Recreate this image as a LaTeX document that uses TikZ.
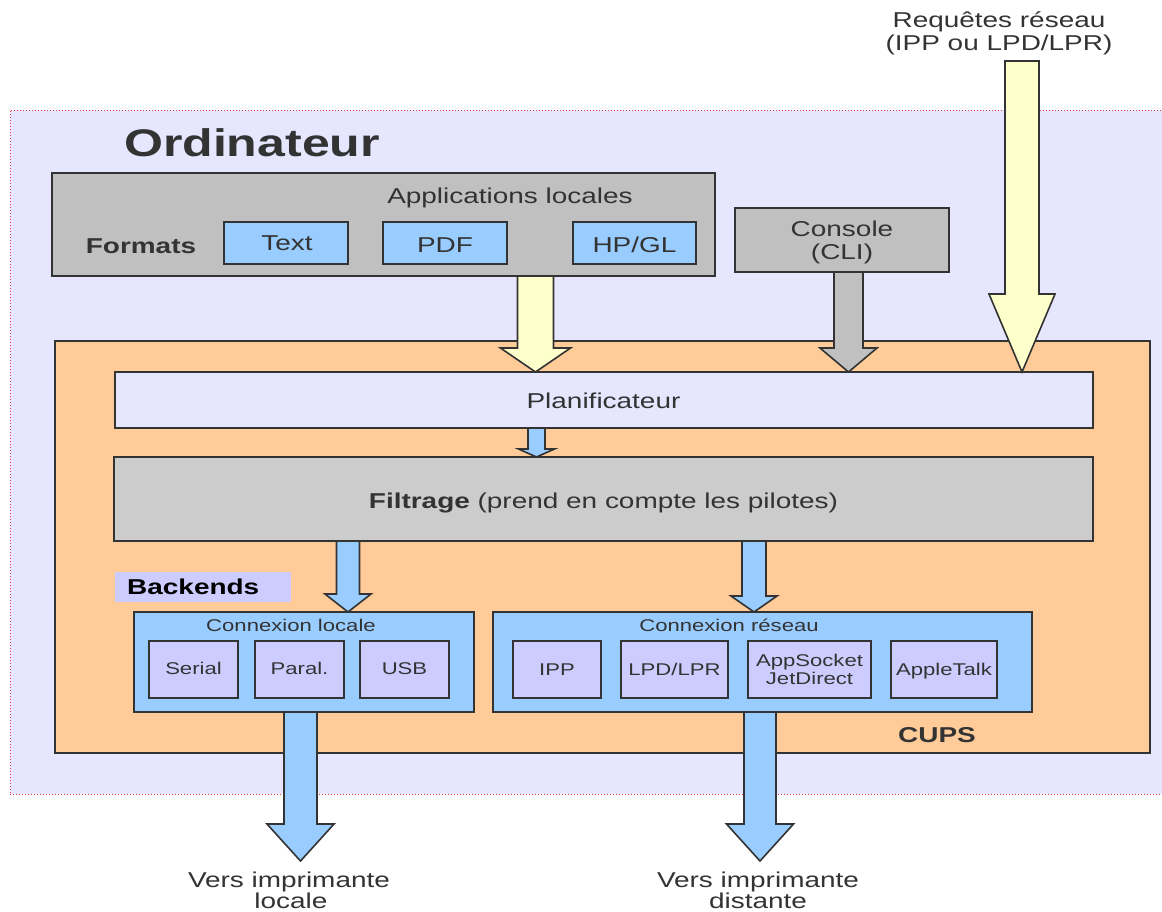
\documentclass[tikz,border=0pt]{standalone}
\usepackage{fontspec}
\setmainfont{Liberation Sans}[FakeStretch=1.3]
\usetikzlibrary{calc}
\definecolor{ordfill}{RGB}{230,230,255}
\definecolor{grayA}{RGB}{192,192,192}
\definecolor{grayB}{RGB}{204,204,204}
\definecolor{blueA}{RGB}{153,204,255}
\definecolor{lavB}{RGB}{204,204,255}
\definecolor{orangeA}{RGB}{255,204,153}
\definecolor{yellowA}{RGB}{255,255,204}
\definecolor{edgec}{RGB}{51,51,51}
\definecolor{txtc}{RGB}{51,51,51}
\definecolor{dotred}{RGB}{225,60,70}
\tikzset{
  box/.style={draw=edgec, line width=1.6pt, anchor=north west, inner sep=0pt, outer sep=0pt},
  plainbox/.style={anchor=north west, inner sep=0pt, outer sep=0pt},
  lbl/.style={text=txtc, font=\fontsize{21.5}{23.5}\selectfont, inner sep=0pt, anchor=base},
  slbl/.style={text=txtc, font=\fontsize{17}{18}\selectfont, inner sep=0pt, anchor=base},
  barrow/.style={draw=edgec, line width=1.6pt, line join=miter},
}
\newcommand{\boxnode}[6]{\node[#6, minimum width={#4pt-#2pt}, minimum height={#5pt-#3pt}] (#1) at (#2,#3) {};}
\newcommand{\blockarrow}[6]{%
  \draw[barrow,#1] let \p1=#2, \p2=#3 in
    (\x1-#4pt,\y1) -- (\x1-#4pt,\y2+#6pt) -- (\x1-#5pt,\y2+#6pt) -- (\x2,\y2)
    -- (\x1+#5pt,\y2+#6pt) -- (\x1+#4pt,\y2+#6pt) -- (\x1+#4pt,\y1) -- cycle;}
\begin{document}
\begin{tikzpicture}[x=1pt,y=-1pt]
\useasboundingbox (0,0) rectangle (1162,911);
% boxes
\boxnode{ord}{10}{110}{1175}{794}{plainbox, fill=ordfill, draw=dotred, dotted, line width=1pt}
\boxnode{apps}{52}{173}{715}{276}{box, fill=grayA}
\boxnode{ftext}{224}{222}{348}{264}{box, fill=blueA}
\boxnode{fpdf}{383}{222}{507}{264}{box, fill=blueA}
\boxnode{fhp}{573}{222}{696}{264}{box, fill=blueA}
\boxnode{console}{735}{208}{949}{272}{box, fill=grayA}
\boxnode{cups}{55}{341}{1150}{753}{box, fill=orangeA}
\boxnode{plan}{115}{372}{1093}{428}{box, fill=ordfill}
\boxnode{filt}{114}{457}{1093}{541}{box, fill=grayB}
\boxnode{bklbl}{115}{572}{291}{602}{plainbox, fill=lavB}
\boxnode{local}{134}{612}{474}{712}{box, fill=blueA}
\boxnode{serial}{149}{641}{238}{698}{box, fill=lavB}
\boxnode{paral}{255}{641}{344}{698}{box, fill=lavB}
\boxnode{usb}{360}{641}{449}{698}{box, fill=lavB}
\boxnode{net}{493}{612}{1032}{712}{box, fill=blueA}
\boxnode{ipp}{513}{641}{601}{698}{box, fill=lavB}
\boxnode{lpd}{621}{641}{728}{698}{box, fill=lavB}
\boxnode{sock}{748}{641}{871}{698}{box, fill=lavB}
\boxnode{atalk}{891}{641}{997}{698}{box, fill=lavB}
% arrow positions
\coordinate (xa) at (535.5,0);
\coordinate (xb) at (848.5,0);
\coordinate (netstart) at (1022,61);
\coordinate (xc) at (536.5,0);
\coordinate (xd) at (348,0);
\coordinate (xe) at (754,0);
\coordinate (xf) at (300.5,0);
\coordinate (xg) at (760,0);
\coordinate (outl) at (300.5,861);
\coordinate (outr) at (760,861);
% block arrows
\blockarrow{fill=yellowA}{(apps.south -| xa)}{(plan.north -| xa)}{18}{35}{24}
\blockarrow{fill=grayA}{(console.south -| xb)}{(plan.north -| xb)}{14.5}{28.5}{24}
\blockarrow{fill=yellowA}{(netstart)}{(plan.north -| netstart)}{17}{33}{78}
\blockarrow{fill=blueA}{(plan.south -| xc)}{(filt.north -| xc)}{8.5}{18}{8}
\blockarrow{fill=blueA}{(filt.south -| xd)}{(local.north -| xd)}{11.5}{23}{18}
\blockarrow{fill=blueA}{(filt.south -| xe)}{(net.north -| xe)}{12}{23}{16}
\blockarrow{fill=blueA}{(local.south -| xf)}{(outl)}{16.5}{33.5}{37}
\blockarrow{fill=blueA}{(net.south -| xg)}{(outr)}{16}{33.5}{37}
% texts
\node[lbl, font=\fontsize{38.5}{40}\selectfont\bfseries] (tord) at (252,156) {Ordinateur};
\node[lbl] (tapps) at (510,203) {Applications locales};
\node[lbl, font=\fontsize{21.5}{23.5}\selectfont\bfseries] (tfmt) at (141,253) {Formats};
\node[lbl] (ttext) at (287,250) {Text};
\node[lbl] (tpdf) at (445,252) {PDF};
\node[lbl] (thp) at (634.5,252) {HP/GL};
\node[lbl] (tcon1) at (842,236) {Console};
\node[lbl] (tcon2) at (842,259) {(CLI)};
\node[lbl] (req1) at (999,27) {Requêtes réseau};
\node[lbl] (req2) at (999,50) {(IPP ou LPD/LPR)};
\node[lbl] (tplan) at (603.5,408) {Planificateur};
\node[lbl] (tfilt) at (603.5,508) {\textbf{Filtrage} (prend en compte les pilotes)};
\node[lbl, anchor=base west, text=black, font=\fontsize{21.5}{23.5}\selectfont\bfseries] (tbk) at (127,594) {Backends};
\node[slbl] (tloc) at (291,631) {Connexion locale};
\node[slbl] (tser) at (193.5,674) {Serial};
\node[slbl] (tpar) at (299.5,674) {Paral.};
\node[slbl] (tusb) at (404.5,674) {USB};
\node[slbl] (tnet) at (729,631) {Connexion réseau};
\node[slbl] (tipp) at (557,675) {IPP};
\node[slbl] (tlpd) at (674.5,675) {LPD/LPR};
\node[slbl] (tsock1) at (809.5,666) {AppSocket};
\node[slbl] (tsock2) at (809.5,684) {JetDirect};
\node[slbl] (tat) at (944,675) {AppleTalk};
\node[lbl, font=\fontsize{21.5}{23.5}\selectfont\bfseries] (tcups) at (937,742) {CUPS};
\node[lbl] (vl1) at (289,887) {Vers imprimante};
\node[lbl] (vl2) at (291,908) {locale};
\node[lbl] (vr1) at (758,887) {Vers imprimante};
\node[lbl] (vr2) at (758,908) {distante};
\end{tikzpicture}
\end{document}
